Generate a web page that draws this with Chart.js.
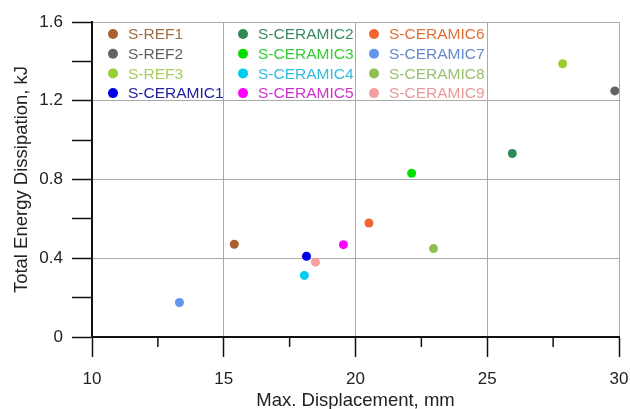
<!DOCTYPE html>
<html>
<head>
<meta charset="utf-8">
<script src="https://cdn.jsdelivr.net/npm/chart.js@4/dist/chart.umd.min.js"></script>
<style>
  html, body { margin: 0; padding: 0; background: #fff; }
  #wrap { width: 630px; height: 409px; position: relative; overflow: hidden; }
</style>
</head>
<body>
<div id="wrap"><canvas id="chart"></canvas></div>
<script>
// 试件名称（图例按列排列）
const specimens = ['S-REF1', 'S-REF2', 'S-REF3', 'S-CERAMIC1',
  'S-CERAMIC2', 'S-CERAMIC3', 'S-CERAMIC4', 'S-CERAMIC5',
  'S-CERAMIC6', 'S-CERAMIC7', 'S-CERAMIC8', 'S-CERAMIC9'];

// 最大位移 mm
const maxDisp = [15.40, 29.84, 27.86, 18.14,
  25.95, 22.13, 18.06, 19.54,
  20.51, 13.32, 22.96, 18.48];

// 总耗能 kJ
const energy = [0.471, 1.250, 1.388, 0.410,
  0.932, 0.832, 0.313, 0.469,
  0.579, 0.175, 0.449, 0.380];

const markerColors = ['#A9612F', '#636363', '#9ACD32', '#0000E6',
  '#2E8B57', '#00E000', '#00CCF0', '#FF00FF',
  '#F26530', '#6495ED', '#8DC04F', '#F4A0A0'];

const textColors = ['#9E6E45', '#606060', '#A8CC60', '#2020A0',
  '#3A8A62', '#33CC33', '#33BBDD', '#CC33CC',
  '#E0703A', '#6688CC', '#99C070', '#E89A9A'];

const xTickValues = [10, 15, 20, 25, 30];
const yTickValues = [0, 0.4, 0.8, 1.2, 1.6];

const FONT = "'Liberation Sans', Arial, sans-serif";

function isMajor(v, list) {
  return list.some(t => Math.abs(t - v) < 1e-6);
}

// 图内图例：三列四行
const insideLegend = {
  id: 'insideLegend',
  afterDatasetsDraw(chart) {
    const { ctx, chartArea } = chart;
    const colX = [21, 151, 282];
    ctx.save();
    ctx.font = '15.5px ' + FONT;
    ctx.textBaseline = 'middle';
    chart.data.datasets.forEach((ds, i) => {
      const col = Math.floor(i / 4);
      const row = i % 4;
      const x = chartArea.left + colX[col];
      const y = chartArea.top + 12 + row * 19.7;
      ctx.fillStyle = ds.backgroundColor;
      ctx.beginPath();
      ctx.arc(x, y, 5, 0, Math.PI * 2);
      ctx.fill();
      ctx.fillStyle = textColors[i];
      ctx.fillText(ds.label, x + 15, y + 1);
    });
    ctx.restore();
  }
};

// x轴次刻度（短）
const minorTicks = {
  id: 'minorTicks',
  afterDraw(chart) {
    const { ctx } = chart;
    const xs = chart.scales.x;
    ctx.save();
    ctx.strokeStyle = '#111';
    ctx.lineWidth = 1.5;
    xs.ticks.forEach(t => {
      if (isMajor(t.value, xTickValues)) return;
      const px = xs.getPixelForValue(t.value);
      ctx.beginPath();
      ctx.moveTo(px, xs.top);
      ctx.lineTo(px, xs.top + 10);
      ctx.stroke();
    });
    ctx.restore();
  }
};

const datasets = specimens.map((name, i) => ({
  label: name,
  data: [{ x: maxDisp[i], y: energy[i] }],
  backgroundColor: markerColors[i],
  borderWidth: 0,
  pointRadius: 4.5,
  pointHoverRadius: 4.5
}));

new Chart(document.getElementById('chart'), {
  type: 'scatter',
  data: { datasets },
  plugins: [insideLegend, minorTicks],
  options: {
    responsive: true,
    maintainAspectRatio: false,
    animation: false,
    events: [],
    layout: { padding: { left: 0, right: 11, top: 22, bottom: 0 } },
    plugins: {
      legend: { display: false },
      tooltip: { enabled: false }
    },
    scales: {
      x: {
        type: 'linear',
        min: 10,
        max: 30,
        afterFit: s => { s.height = 72; s.paddingLeft = 0; s.paddingRight = 0; },
        border: { color: '#111', width: 2 },
        grid: {
          color: c => isMajor(c.tick.value, xTickValues) && c.tick.value !== 10 ? '#aaaaaa' : 'rgba(0,0,0,0)',
          tickColor: c => isMajor(c.tick.value, xTickValues) ? '#111' : 'rgba(0,0,0,0)',
          tickLength: 20,
          tickWidth: 1.5
        },
        ticks: {
          stepSize: 2.5,
          autoSkip: false,
          maxRotation: 0,
          padding: 12,
          color: '#222',
          font: { family: FONT, size: 17 },
          callback: v => isMajor(v, xTickValues) ? String(v) : ''
        },
        title: {
          display: true,
          text: 'Max. Displacement, mm',
          color: '#222',
          font: { family: FONT, size: 18.5 },
          padding: { top: 0, bottom: -3 }
        }
      },
      y: {
        type: 'linear',
        min: 0,
        max: 1.6,
        afterFit: s => { s.width = 92; s.paddingTop = 0; s.paddingBottom = 0; },
        border: { color: '#111', width: 2 },
        grid: {
          color: c => isMajor(c.tick.value, yTickValues) && c.tick.value !== 0 ? '#aaaaaa' : 'rgba(0,0,0,0)',
          tickColor: '#111',
          tickLength: 20,
          tickWidth: 1.5
        },
        ticks: {
          stepSize: 0.2,
          autoSkip: false,
          padding: 9,
          color: '#222',
          font: { family: FONT, size: 17 },
          callback: v => isMajor(v, yTickValues) ? String(Number(v.toFixed(1))) : ''
        },
        title: {
          display: true,
          text: 'Total Energy Dissipation, kJ',
          color: '#222',
          font: { family: FONT, size: 18.5 },
          padding: { top: 11, bottom: 0 }
        }
      }
    }
  }
});
</script>
</body>
</html>
